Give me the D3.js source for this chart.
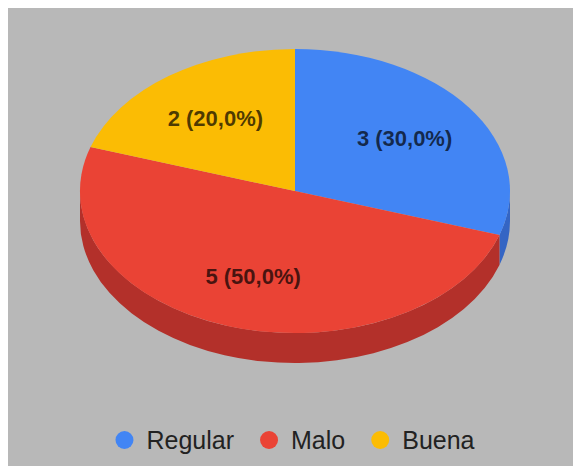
<script src="https://cdn.jsdelivr.net/npm/d3@7"></script>
<style>body{margin:0;background:#fff;}</style>
<body>
<script>
// chart data
var categories = ["Regular", "Malo", "Buena"];
var values = [3, 5, 2];
var labels = ["3 (30,0%)", "5 (50,0%)", "2 (20,0%)"];
var colors = ["#4285f4", "#ea4335", "#fbbc04"];
var sideColors = ["#3465c4", "#b3302a", "#c79500"];

var W = 573, H = 466;
var cx = 295, cy = 191, rx = 215, ry = 142, depth = 30;

var svg = d3.select("body").append("svg")
	.attr("width", W)
	.attr("height", H);

// grey panel
svg.append("rect")
	.attr("x", 8).attr("y", 8)
	.attr("width", W - 8).attr("height", H - 8)
	.style("fill", "#b8b8b8");

var slices = d3.pie().sort(null).value(function(d){return d})(values);

// the pie is drawn as a circle and squashed vertically
var g = svg.append("g")
	.attr("transform", "translate(" + cx + "," + cy + ") scale(1," + (ry / rx) + ")");

var dd = depth * rx / ry;

//front walls, only the part between 90 and 270 degrees can be seen
g.selectAll("path.side")
	.data(slices)
	.enter().append("path")
	.attr("class", "side")
	.attr("d", function(d){
		var a0 = Math.max(d.startAngle, Math.PI / 2);
		var a1 = Math.min(d.endAngle, 3 * Math.PI / 2);
		if (a0 >= a1) return null;
		var p = d3.path();
		p.moveTo(rx * Math.sin(a0), -rx * Math.cos(a0));
		p.arc(0, 0, rx, a0 - Math.PI / 2, a1 - Math.PI / 2, false);
		p.lineTo(rx * Math.sin(a1), -rx * Math.cos(a1) + dd);
		p.arc(0, dd, rx, a1 - Math.PI / 2, a0 - Math.PI / 2, true);
		p.closePath();
		return p.toString();
	})
	.style("fill", function(d, i){return sideColors[i]});

var arc = d3.arc().innerRadius(0).outerRadius(rx);

g.selectAll("path.top")
	.data(slices)
	.enter().append("path")
	.attr("class", "top")
	.attr("d", arc)
	.style("fill", function(d, i){return colors[i]});

// slice labels
var k = 0.63;
svg.selectAll("text.lbl")
	.data(slices)
	.enter().append("text")
	.attr("class", "lbl")
	.attr("x", function(d){var m = (d.startAngle + d.endAngle) / 2; return cx + rx * k * Math.sin(m)})
	.attr("y", function(d){var m = (d.startAngle + d.endAngle) / 2; return cy - ry * k * Math.cos(m)})
	.attr("dy", "0.35em")
	.attr("text-anchor", "middle")
	.style("font-family", "Arial, 'Liberation Sans', sans-serif")
	.style("font-weight", "bold")
	.style("font-size", "22px")
	.style("fill", "#000")
	.style("fill-opacity", 0.7)
	.text(function(d, i){return labels[i]});

//legend, laid out from the measured text widths and centred
var legend = svg.append("g");
var items = legend.selectAll("g")
	.data(categories)
	.enter().append("g");

items.append("circle")
	.attr("r", 9)
	.attr("cy", 440)
	.style("fill", function(d, i){return colors[i]});

items.append("text")
	.attr("y", 449)
	.style("font-family", "Arial, 'Liberation Sans', sans-serif")
	.style("font-size", "25px")
	.style("fill", "#222")
	.text(function(d){return d});

var x = 0;
items.each(function(){
	var it = d3.select(this);
	var tw = it.select("text").node().getComputedTextLength();
	it.select("circle").attr("cx", x + 9);
	it.select("text").attr("x", x + 31);
	x += 31 + tw + 26;
});
var total = x - 26;
legend.attr("transform", "translate(" + (cx - total / 2) + ",0)");
</script>
</body>
